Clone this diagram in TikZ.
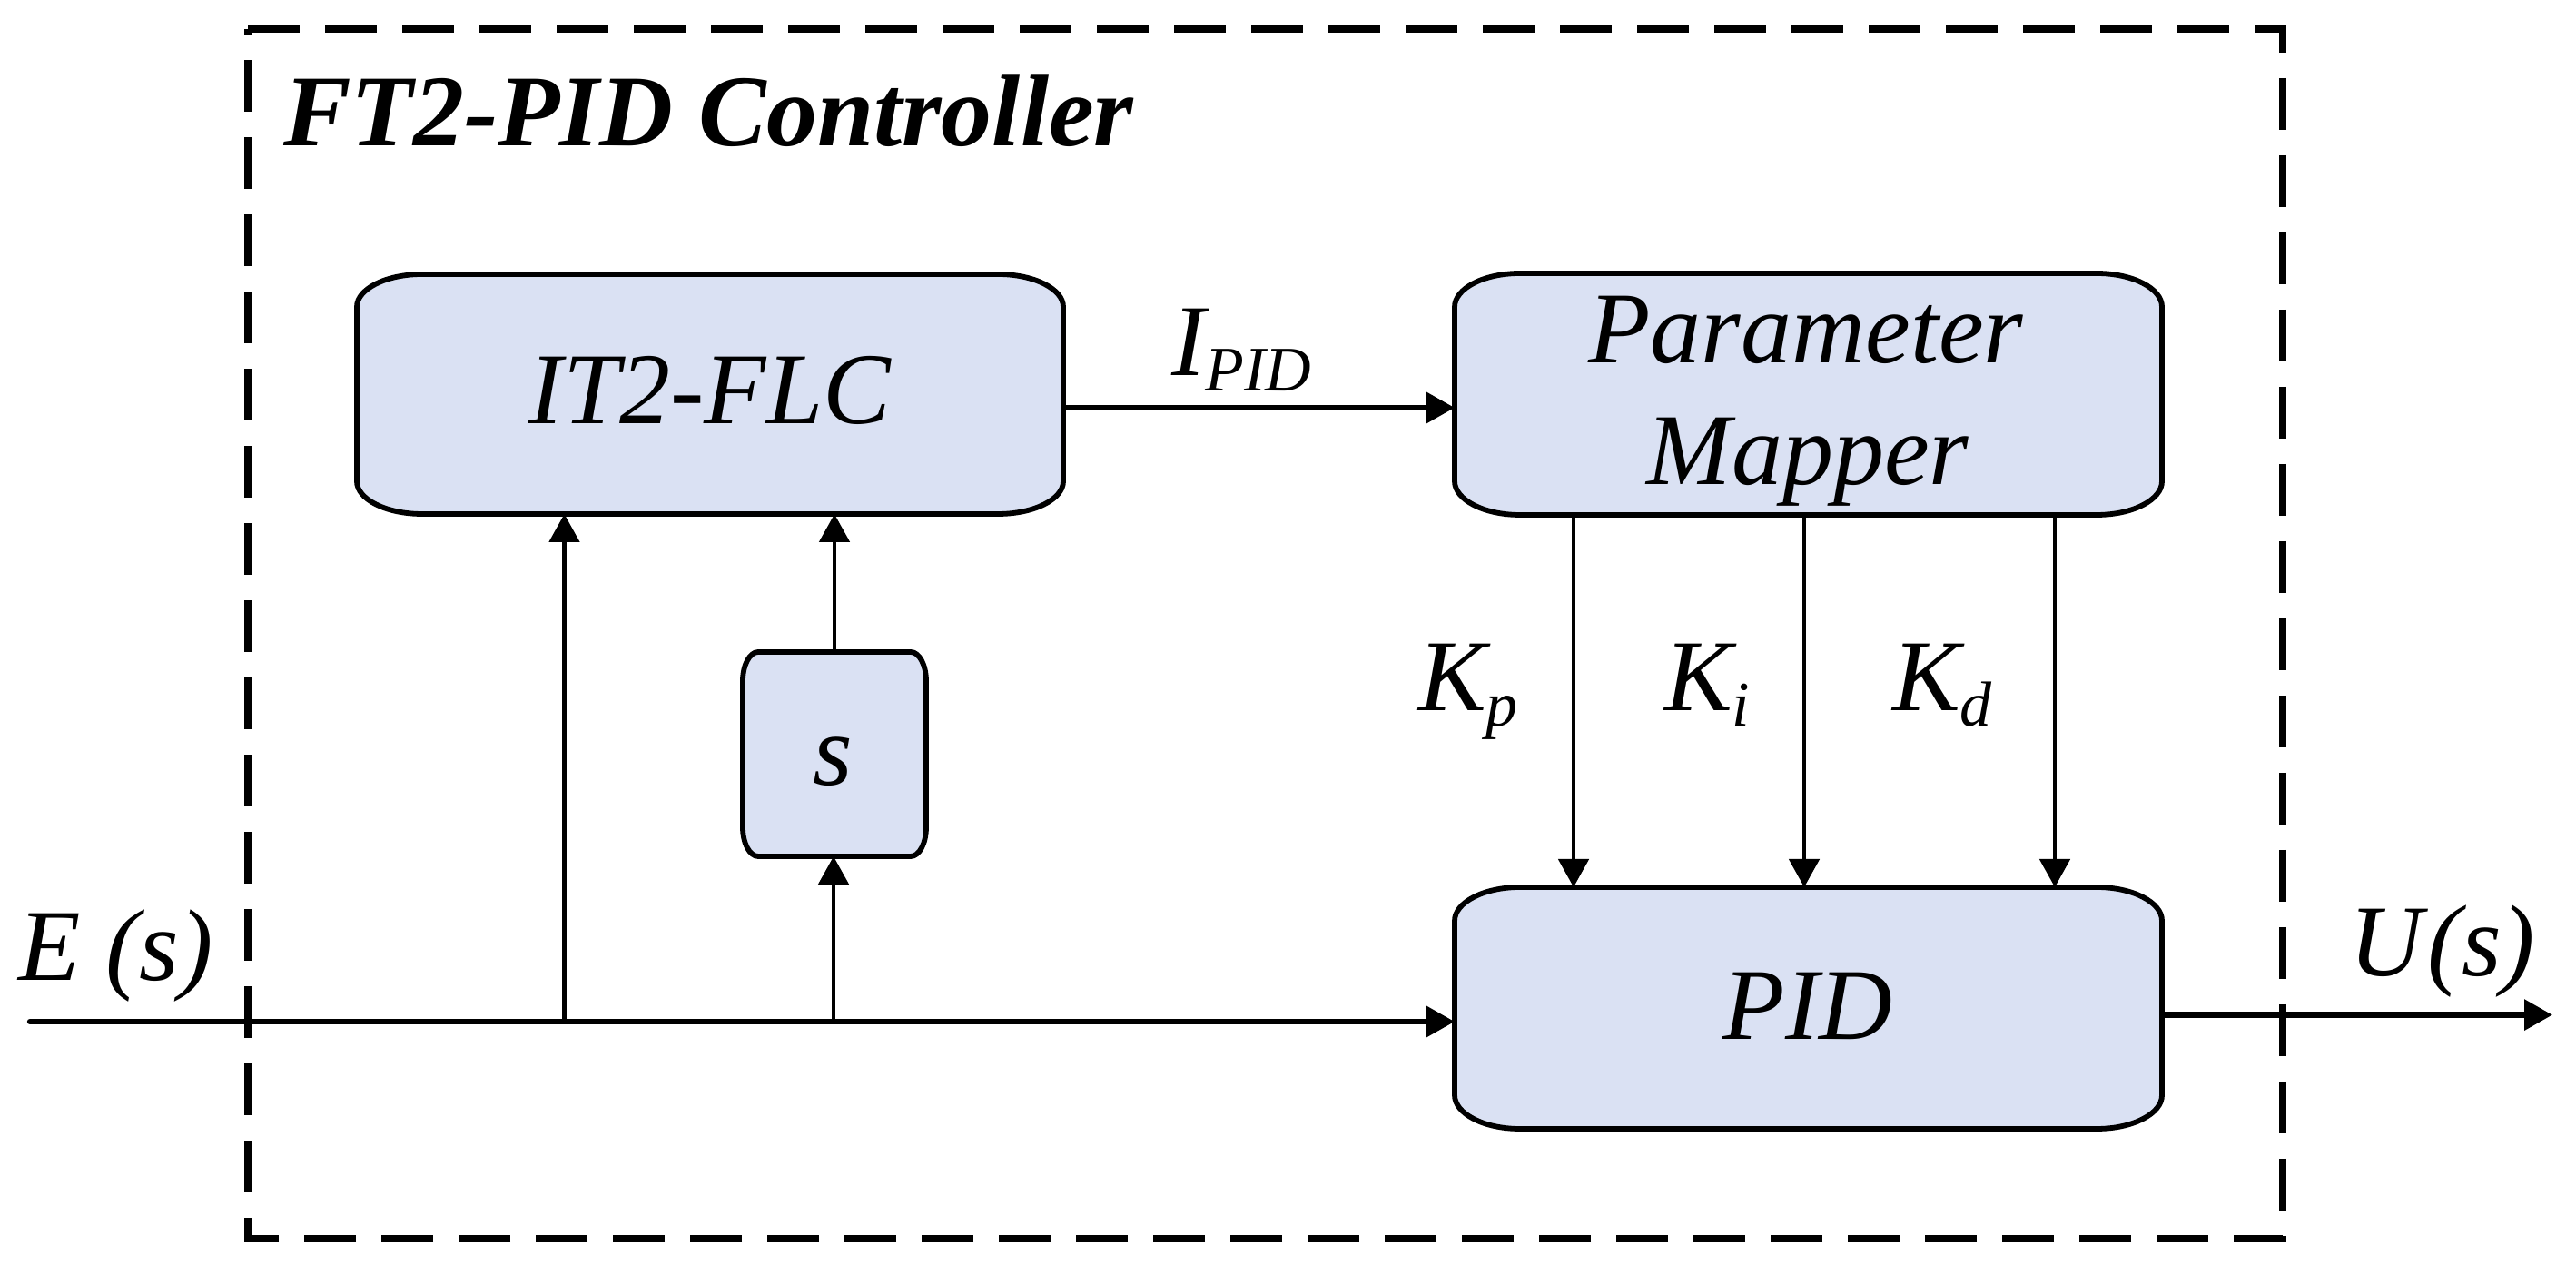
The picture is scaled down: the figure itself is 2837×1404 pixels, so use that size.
\documentclass[tikz,border=0pt]{standalone}
\usepackage{fontspec}
\setmainfont{Liberation Serif}
\usetikzlibrary{arrows.meta,calc}
\definecolor{boxfill}{RGB}{218,225,243}
\newcommand{\ebox}[7]{% name, cx, cy, halfw, halfh, rx, ry
  \draw[boxline] ({#2-#4+#6},{#3+#5}) -- ({#2+#4-#6},{#3+#5})
    arc[start angle=90,end angle=0,x radius=#6,y radius=#7]
    -- ({#2+#4},{#3-#5+#7})
    arc[start angle=0,end angle=-90,x radius=#6,y radius=#7]
    -- ({#2-#4+#6},{#3-#5})
    arc[start angle=-90,end angle=-180,x radius=#6,y radius=#7]
    -- ({#2-#4},{#3+#5-#7})
    arc[start angle=180,end angle=90,x radius=#6,y radius=#7] -- cycle;
  \node[boxnode, minimum width={2*#4}, minimum height={2*#5}] (#1) at (#2,#3) {};
}
\tikzset{
  boxline/.style={fill=boxfill, draw=black, line width=5.8pt},
  boxnode/.style={inner sep=0pt, outer sep=0pt, draw=none},
  hline/.style={line width=6.3pt},
  vline/.style={line width=4.8pt},
  arr/.style={-{Triangle[length=31pt,width=33pt]}},
  frame/.style={line width=7.5pt, dash pattern=on 57pt off 28pt},
  txt/.style={inner sep=0pt, outer sep=0pt, font=\fontsize{112}{120}\selectfont\itshape},
  title/.style={inner sep=0pt, outer sep=0pt, font=\fontsize{112}{120}\selectfont\bfseries\itshape},
}
\newcommand{\subsc}[1]{\raisebox{-17pt}{\fontsize{70}{75}\selectfont #1}}
\begin{document}
\begin{tikzpicture}[x=1pt,y=1pt]
\useasboundingbox (0,0) rectangle (2837,1404);
% dashed frame
\draw[frame] (273,1372) -- (2514,1372) -- (2514,40) -- (273,40) -- cycle;
\node[title, anchor=base west] (ttl) at (312,1243) {FT2-PID Controller};
% blocks
\ebox{flc}{782}{970}{389}{132}{72}{36}
\ebox{pm}{1991.5}{970}{389.5}{133}{72}{37}
\ebox{pid}{1991.5}{294}{389.5}{133}{72}{37}
\ebox{sblk}{919}{573.5}{101}{112.5}{17}{32}
% block texts
\node[txt, anchor=base] (tflc) at (782,937.5) {IT2-FLC};
\node[txt, anchor=base] (tpm1) at (1989,1004) {Parameter};
\node[txt, anchor=base] (tpm2) at (1991,870) {Mapper};
\node[txt, anchor=base] (tpid) at (1991,259.5) {PID};
\node[txt, anchor=base] (ts) at (917,539) {s};
% signal labels
\node[txt, anchor=base west] (lipid) at (1290,990) {I\subsc{PID}};
\node[txt, anchor=base west] (lkp) at (1562,621) {K\subsc{p}};
\node[txt, anchor=base west] (lki) at (1833,621) {K\subsc{i}};
\node[txt, anchor=base west] (lkd) at (2084,621) {K\subsc{d}};
\node[txt, anchor=base west] (les) at (20,324) {E (s)};
\node[txt, anchor=base west] (lus) at (2587,329) {U\kern6pt(s)};
% connectors
\coordinate (ein) at (33,279);
\coordinate (j1) at (621.5,279);
\coordinate (j2) at (918,279);
\coordinate (uout) at (2811,286.4);
\draw[hline, arr, line cap=round] (ein) -- (ein -| pid.west);
\draw[vline, arr] (j1) -- (j1 |- flc.south);
\draw[vline, arr] (j2) -- (j2 |- sblk.south);
\draw[vline, arr] (sblk.north) -- (sblk.north |- flc.south);
\draw[hline, arr] ($(flc.east)+(0,-15)$) -- ($(pm.west)+(0,-15)$);
\draw[vline, arr] ($(pm.south)+(-258.5,0)$) -- ($(pid.north)+(-258.5,0)$);
\draw[vline, arr] ($(pm.south)+(-4.5,0)$) -- ($(pid.north)+(-4.5,0)$);
\draw[vline, arr] ($(pm.south)+(271.5,0)$) -- ($(pid.north)+(271.5,0)$);
\draw[hline, arr] ($(pid.east)+(0,-7.6)$) -- (uout);
\end{tikzpicture}
\end{document}
